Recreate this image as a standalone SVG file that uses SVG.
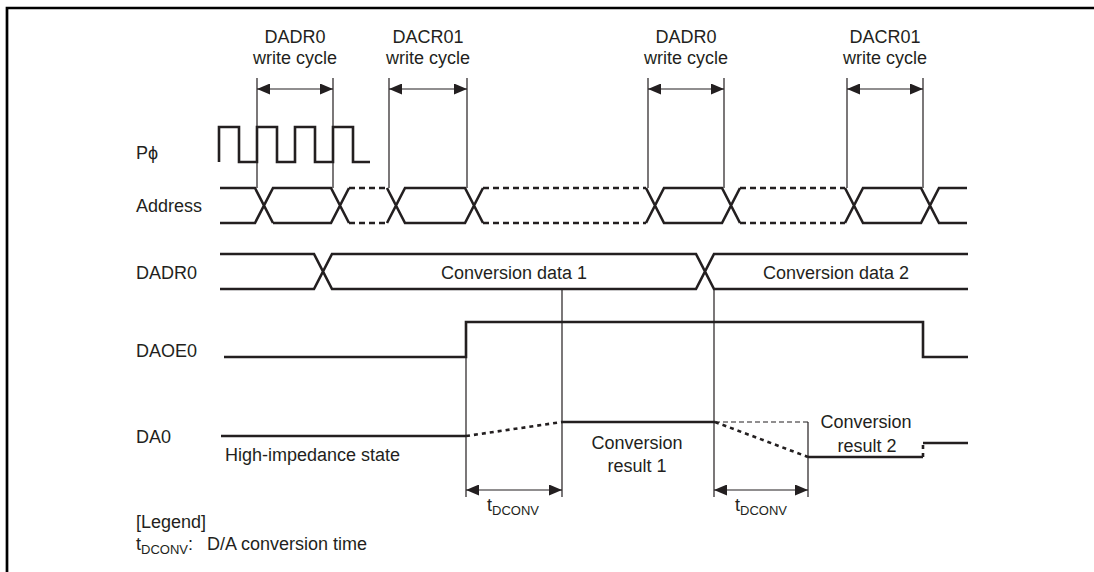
<svg xmlns="http://www.w3.org/2000/svg" width="1094" height="572" viewBox="0 0 1094 572">
<defs>
<marker id="arr" markerUnits="userSpaceOnUse" markerWidth="13" markerHeight="11" refX="13" refY="5.5" orient="auto-start-reverse">
<path d="M0,0 L13,5.5 L0,11 z" fill="#231f20"/>
</marker>
<style>
.t{font-family:"Liberation Sans",Arial,sans-serif;font-size:18px;fill:#231f20}
.c{text-anchor:middle}
.sub{font-size:13px}
.w{fill:none;stroke:#231f20;stroke-width:2.6;stroke-linejoin:miter}
.d{fill:none;stroke:#231f20;stroke-width:2.6;stroke-dasharray:6 4}
.dot{fill:none;stroke:#231f20;stroke-width:2.6;stroke-dasharray:4 4}
.thin{fill:none;stroke:#231f20;stroke-width:1.2}
.thind{fill:none;stroke:#231f20;stroke-width:1.2;stroke-dasharray:5 3}
.dim{fill:none;stroke:#231f20;stroke-width:1.2;marker-start:url(#arr);marker-end:url(#arr)}
</style>
</defs>
<rect width="1094" height="572" fill="#fff"/>
<g id="frame">
<path d="M7,572 V8 H1094" fill="none" stroke="#000" stroke-width="2.7"/>
</g>

<g id="top-labels">
<text class="t c" x="295" y="43">DADR0</text>
<text class="t c" x="295" y="64">write cycle</text>
<text class="t c" x="428" y="43">DACR01</text>
<text class="t c" x="428" y="64">write cycle</text>
<text class="t c" x="686" y="43">DADR0</text>
<text class="t c" x="686" y="64">write cycle</text>
<text class="t c" x="885" y="43">DACR01</text>
<text class="t c" x="885" y="64">write cycle</text>
</g>

<g id="signal-labels">
<text class="t" x="136" y="159">Pϕ</text>
<text class="t" x="136" y="212">Address</text>
<text class="t" x="136" y="279">DADR0</text>
<text class="t" x="136" y="357">DAOE0</text>
<text class="t" x="136" y="443">DA0</text>
</g>

<g id="connectors">
<path class="thin" d="M257,78 V188 M333,78 V188 M389,78 V188 M467,78 V188 M648,78 V188 M724,78 V188 M847,78 V188 M923,78 V188"/>
<path class="thin" d="M466,322 V497 M562,289 V497 M714,289 V497 M808,422 V497"/>
<path class="dim" d="M257,89 H333"/>
<path class="dim" d="M389,89 H467"/>
<path class="dim" d="M648,89 H724"/>
<path class="dim" d="M847,89 H923"/>
<path class="dim" d="M466,490 H562"/>
<path class="dim" d="M714,490 H808"/>
<path class="thind" d="M715,422 H808"/>
</g>

<g id="pclk">
<path class="w" d="M219,162 V127 H239 V162 H257 V127 H277 V162 H295 V127 H315 V162 H333 V127 H353 V162 H370"/>
</g>

<g id="address">
<path class="w" d="M220,188 H255 L273,223 M220,223 H255 L273,188 H331 L349,223 M273,223 H331 L349,188"/>
<path class="d" d="M349,188 H387 M349,223 H387"/>
<path class="w" d="M387,188 L405,223 H465 L483,188 M387,223 L405,188 H465 L483,223"/>
<path class="d" d="M483,188 H646 M483,223 H646"/>
<path class="w" d="M646,188 L664,223 H722 L740,188 M646,223 L664,188 H722 L740,223"/>
<path class="d" d="M740,188 H845 M740,223 H845"/>
<path class="w" d="M845,188 L863,223 H921 L939,188 H967 M845,223 L863,188 H921 L939,223 H967"/>
</g>

<g id="dadr0">
<path class="w" d="M220,254 H314 L332,289 H696 L714,254 H968 M220,289 H314 L332,254 H696 L714,289 H968"/>
<text class="t c" x="514" y="279">Conversion data 1</text>
<text class="t c" x="836" y="279">Conversion data 2</text>
</g>

<g id="daoe0">
<path class="w" d="M224,357 H466 V322 H923 V357 H968"/>
</g>

<g id="da0">
<path class="w" d="M221,436 H466"/>
<path class="dot" d="M466,436 L562,422"/>
<path class="w" d="M562,422 H715"/>
<path class="dot" d="M715,422 L808,457"/>
<path class="w" d="M808,457 H923"/>
<path class="dot" d="M923,457 V443"/>
<path class="w" d="M923,443 H968"/>
<text class="t" x="225" y="461">High-impedance state</text>
<text class="t c" x="637" y="449">Conversion</text>
<text class="t c" x="637" y="472">result 1</text>
<text class="t c" x="866" y="428">Conversion</text>
<text class="t c" x="867" y="452">result 2</text>
</g>

<g id="tdconv-labels">
<text class="t" x="487" y="511">t<tspan class="sub" dy="4">DCONV</tspan></text>
<text class="t" x="735" y="511">t<tspan class="sub" dy="4">DCONV</tspan></text>
</g>

<g id="legend">
<text class="t" x="136" y="528">[Legend]</text>
<text class="t" x="136" y="550">t<tspan class="sub" dy="4">DCONV</tspan><tspan dy="-4">:</tspan></text>
<text class="t" x="207" y="550">D/A conversion time</text>
</g>
</svg>
